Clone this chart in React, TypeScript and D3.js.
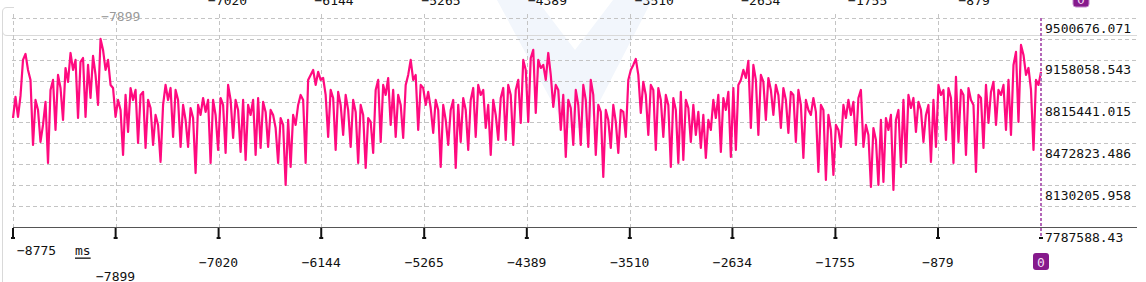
import React from 'react';
import * as d3 from 'd3';

// ---------- data ----------
const timeStart = -8775;
const timeEnd = 0;

const xTickValues = [-8775, -7899, -7020, -6144, -5265, -4389, -3510, -2634, -1755, -879, 0];
const xTickLabels = ['−8775', '−7899', '−7020', '−6144', '−5265', '−4389', '−3510', '−2634', '−1755', '−879', '0'];

const yTickValues = [9500676.071, 9158058.543, 8815441.015, 8472823.486, 8130205.958, 7787588.43];
const yTickLabels = ['9500676.071', '9158058.543', '8815441.015', '8472823.486', '8130205.958', '7787588.43'];

const xUnit = 'ms';

// series values in thousands, evenly spaced samples from timeStart to timeEnd
const valuesThousands = [
  8681, 8854, 8690, 8862, 9157, 9206, 9075, 8993, 8460, 8829, 8747, 8485,
  8624, 8813, 8312, 8911, 8993, 8583, 9034, 8927, 8665, 9091, 8977, 9214,
  9075, 9157, 8681, 9141, 9173, 8690, 9116, 8845, 9190, 9034, 8788, 9329,
  9239, 9075, 9157, 8952, 8927, 8690, 8829, 8747, 8378, 8870, 8567, 8927,
  8829, 8911, 8476, 8870, 8895, 8435, 8829, 8763, 8460, 8706, 8624, 8321,
  8788, 8952, 8829, 8927, 8526, 8911, 8829, 8444, 8788, 8665, 8444, 8763,
  8681, 8230, 8788, 8706, 8845, 8731, 8829, 8312, 8829, 8706, 8419, 8845,
  8788, 8394, 8952, 8829, 8517, 8829, 8747, 8403, 8829, 8337, 8788, 8706,
  8829, 8378, 8845, 8435, 8813, 8731, 8444, 8747, 8706, 8599, 8312, 8681,
  8624, 8132, 8665, 8280, 8706, 8624, 8788, 8870, 8829, 8312, 8993, 9034,
  9075, 8952, 9059, 8993, 9009, 8870, 8526, 8911, 8845, 8419, 8895, 8788,
  8542, 8870, 8747, 8444, 8829, 8731, 8312, 8788, 8706, 8271, 8681, 8649,
  8394, 8911, 8993, 8485, 8952, 8870, 9009, 8624, 8911, 8526, 8870, 8788,
  8517, 8952, 9034, 9157, 8993, 9034, 8583, 8952, 8927, 8788, 8895, 8763,
  8558, 8829, 8747, 8280, 8788, 8665, 8460, 8747, 8829, 8271, 8788, 8485,
  8845, 8747, 8419, 8829, 8927, 8526, 8952, 8870, 8911, 8599, 8788, 8378,
  8829, 8706, 8501, 8845, 8927, 8501, 8952, 8870, 8460, 8911, 8993, 8640,
  9157, 9075, 8649, 9173, 9239, 8722, 9157, 9091, 9116, 8993, 9214, 9034,
  8772, 8952, 8911, 8583, 8870, 8362, 8829, 8763, 8460, 8911, 8788, 8460,
  8952, 8829, 8444, 8993, 8870, 8378, 8788, 8731, 8198, 8747, 8665, 8435,
  8788, 8649, 8394, 8747, 8731, 8526, 8993, 9075, 9116, 9165, 9034, 8722,
  8977, 8870, 8542, 8952, 8911, 8419, 8927, 8829, 8526, 8870, 8788, 8280,
  8845, 8747, 8312, 8895, 8337, 8829, 8763, 8485, 8788, 8542, 8731, 8435,
  8706, 8353, 8665, 8583, 8829, 8681, 8870, 8403, 8845, 8747, 8895, 8362,
  8927, 8419, 8952, 8993, 9075, 9009, 9149, 8599, 9116, 8993, 8542, 9034,
  8977, 8665, 9009, 8911, 8706, 8952, 8870, 8599, 8927, 8829, 8558, 8895,
  8870, 8485, 8911, 8788, 8353, 8829, 8747, 8706, 8845, 8731, 8239, 8788,
  8747, 8173, 8706, 8583, 8214, 8624, 8583, 8444, 8788, 8681, 8829, 8706,
  8813, 8460, 8845, 8911, 8444, 8624, 8542, 8116, 8599, 8501, 8132, 8665,
  8157, 8681, 8583, 8706, 8091, 8665, 8747, 8280, 8829, 8312, 8870, 8763,
  8845, 8567, 8813, 8747, 8485, 8706, 8788, 8321, 8829, 8444, 8952, 8870,
  8911, 8501, 8927, 8845, 8312, 9018, 8485, 8911, 8870, 8378, 8927, 8829,
  8788, 8239, 8870, 8845, 8435, 8952, 8640, 8895, 8977, 8624, 8911, 8870,
  8952, 8583, 8993, 8542, 9116, 9223, 8649, 9280, 9198, 9034, 9091, 8911,
  8419, 8993, 8952, 9059,
];

// ---------- layout ----------
const W = 1146;
const H = 282;
const plotLeft = 13;
const plotRight = 1041;
const plotTop = 18;
const plotBottom = 227;
const gridRight = 1137;
const FONT = '"DejaVu Sans Mono", monospace';

export default function App() {
  const x = d3.scaleLinear().domain([timeStart, timeEnd]).range([plotLeft, plotRight]);
  const xTop = d3.scaleLinear().domain([timeStart, timeEnd]).range([14.3, 1081]);
  const y = d3
    .scaleLinear()
    .domain([yTickValues[yTickValues.length - 1], yTickValues[0]])
    .range([plotBottom, plotTop]);

  const n = valuesThousands.length;
  const data = valuesThousands.map((v, i) => ({
    t: timeStart + (i * (timeEnd - timeStart)) / (n - 1),
    v: v * 1000,
  }));

  const line = d3
    .line<{ t: number; v: number }>()
    .x((d) => x(d.t))
    .y((d) => y(d.v));

  // gridlines: at labelled values and midway between them
  const gridVals: number[] = [];
  for (let i = 0; i < yTickValues.length - 1; i++) {
    gridVals.push(yTickValues[i]);
    gridVals.push((yTickValues[i] + yTickValues[i + 1]) / 2);
  }

  const lastIdx = xTickValues.length - 1;

  return (
    <svg
      width={W}
      height={H}
      style={{ position: 'absolute', left: 0, top: 0, background: '#fff' }}
      fontFamily={FONT}
    >
      {/* watermark */}
      <polygon
        points="497,0 537,0 575,50 613,0 652,0 586,128 566,128"
        fill="#f2f6fc"
      />

      {/* frame */}
      <path
        d={`M14,7.5 H7 Q2.5,7.5 2.5,12 V282 M2.5,31 Q2.5,35.5 7,35.5 H${gridRight}`}
        fill="none"
        stroke="#d9d9d9"
        strokeWidth={1}
      />

      {/* horizontal grid */}
      {gridVals.map((v, i) => (
        <line
          key={'hg' + i}
          x1={plotLeft - 1}
          x2={gridRight}
          y1={Math.round(y(v)) + 0.5}
          y2={Math.round(y(v)) + 0.5}
          stroke="#c4c4c4"
          strokeDasharray="4,3"
        />
      ))}

      {/* vertical grid */}
      {xTickValues.slice(0, lastIdx).map((t, i) => (
        <line
          key={'vg' + i}
          x1={Math.round(x(t)) + 0.5}
          x2={Math.round(x(t)) + 0.5}
          y1={14}
          y2={plotBottom}
          stroke="#c4c4c4"
          strokeDasharray="4,3"
        />
      ))}

      {/* top (clipped) label row */}
      {xTickValues.slice(2, lastIdx).map((t, i) => (
        <text
          key={'tt' + i}
          x={xTop(t)}
          y={5}
          textAnchor="middle"
          fontSize={13}
          fill="#111"
        >
          {xTickLabels[i + 2]}
        </text>
      ))}
      <rect x={xTop(0) - 8} y={-10} width={16} height={17} rx={3} fill="#861a8c" stroke="#c48ccc" />
      <text x={xTop(0)} y={4} textAnchor="middle" fontSize={13} fill="#f0d8f0">
        {xTickLabels[lastIdx]}
      </text>
      <text
        x={xTop(xTickValues[1])}
        y={16}
        dominantBaseline="central"
        textAnchor="middle"
        fontSize={13}
        fill="#9a9a9a"
      >
        {xTickLabels[1]}
      </text>

      {/* series */}
      <path
        d={line(data) || ''}
        fill="none"
        stroke="#ff0a7f"
        strokeWidth={2.2}
        strokeLinejoin="round"
      />

      {/* current-time marker */}
      <line
        x1={x(0)}
        x2={x(0)}
        y1={plotTop}
        y2={238}
        stroke="#b466b8"
        strokeWidth={2}
        strokeDasharray="3,2"
      />

      {/* bottom axis */}
      <line x1={plotLeft} x2={gridRight} y1={plotBottom + 0.5} y2={plotBottom + 0.5} stroke="#555" />
      {xTickValues.map((t, i) => (
        <g key={'tk' + i}>
          {i < lastIdx && (
            <line x1={x(t)} x2={x(t)} y1={plotBottom + 1} y2={238} stroke="#111" strokeWidth={2} />
          )}
          <line x1={x(t) - 2} x2={x(t) + 2} y1={238} y2={238} stroke="#111" strokeWidth={2} />
        </g>
      ))}

      {/* bottom labels */}
      <text x={x(xTickValues[0]) + 4} y={250} dominantBaseline="central" fontSize={13} fill="#111">
        {xTickLabels[0]}
      </text>
      <text x={75} y={250} dominantBaseline="central" fontSize={13} fill="#111" textDecoration="underline">
        {xUnit}
      </text>
      <text x={x(xTickValues[1])} y={276} dominantBaseline="central" textAnchor="middle" fontSize={13} fill="#111">
        {xTickLabels[1]}
      </text>
      {xTickValues.slice(2, lastIdx).map((t, i) => (
        <text
          key={'bl' + i}
          x={x(t)}
          y={262}
          dominantBaseline="central"
          textAnchor="middle"
          fontSize={13}
          fill="#111"
        >
          {xTickLabels[i + 2]}
        </text>
      ))}
      <rect x={x(0) - 8} y={253} width={16} height={17} rx={3} fill="#861a8c" />
      <text x={x(0)} y={262} dominantBaseline="central" textAnchor="middle" fontSize={13} fill="#f3dff3">
        {xTickLabels[lastIdx]}
      </text>

      {/* right labels */}
      {yTickValues.map((v, i) => (
        <text
          key={'yl' + i}
          x={1045}
          y={y(v) + 10}
          dominantBaseline="central"
          fontSize={13}
          fill="#111"
        >
          {yTickLabels[i]}
        </text>
      ))}
    </svg>
  );
}
